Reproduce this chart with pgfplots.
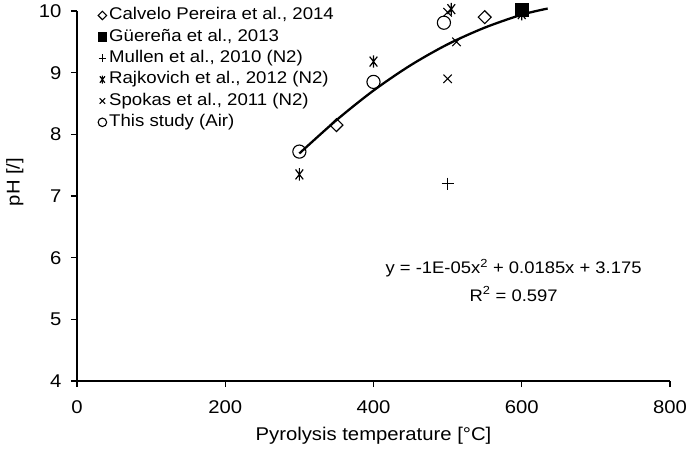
\documentclass[border=0pt]{standalone}
\usepackage{pgfplots}
\pgfplotsset{compat=1.18}
\usepackage{fontspec}
\setmainfont{Liberation Sans}[FakeStretch=1.1]
\pgfdeclareplotmark{xstar}{%
  \pgfpathmoveto{\pgfqpoint{0pt}{\pgfplotmarksize}}%
  \pgfpathlineto{\pgfqpoint{0pt}{-\pgfplotmarksize}}%
  \pgfpathmoveto{\pgfqpoint{-0.62\pgfplotmarksize}{0.8\pgfplotmarksize}}%
  \pgfpathlineto{\pgfqpoint{0.62\pgfplotmarksize}{-0.8\pgfplotmarksize}}%
  \pgfpathmoveto{\pgfqpoint{0.62\pgfplotmarksize}{0.8\pgfplotmarksize}}%
  \pgfpathlineto{\pgfqpoint{-0.62\pgfplotmarksize}{-0.8\pgfplotmarksize}}%
  \pgfusepathqstroke}
\begin{document}
\begin{tikzpicture}
\useasboundingbox (-77bp,-73bp) rectangle (610bp,381bp);
\begin{axis}[
  scale only axis, width=593bp, height=370bp,
  xmin=0, xmax=800, ymin=4, ymax=10,
  axis x line*=bottom, axis y line*=left,
  xtick={0,200,400,600,800}, ytick={4,5,6,7,8,9,10},
  tick align=outside, major tick length=6bp,
  tick style={black, line width=1.1pt},
  axis line style={line width=1.1pt},
  ticklabel style={font=\fontsize{18.5}{22}\selectfont},
  xticklabel style={yshift=-10bp},
  yticklabel style={xshift=-6bp},
  /pgf/number format/assume math mode=true,
  xlabel={Pyrolysis temperature [°C]},
  ylabel={pH [/]},
  every axis x label/.style={at={(axis description cs:0.5,0)}, anchor=center, yshift=-55bp},
  every axis y label/.style={at={(axis description cs:-0.1046,0.538)}, anchor=center, rotate=90},
  label style={font=\fontsize{18.5}{22}\selectfont},
  legend style={draw=none, fill=none, at={(0.0353,1.0175)}, anchor=north west,
    font=\fontsize{17}{20}\selectfont, row sep=0pt, inner sep=0pt,
    nodes={inner sep=2.5pt, text height=12.5bp, text depth=3.9bp}},
  legend cell align=left,
  legend image code/.code={\draw[#1, every mark/.append style={scale=0.65}] plot coordinates {(0.12cm,0cm)};},
  clip=false,
]
\addplot[only marks, mark=square, mark size=4.6pt, mark options={rotate=45, black, line width=1.1pt}]
  coordinates {(350,8.15) (550,9.9)};
\addlegendentry{Calvelo Pereira et al., 2014}
\addplot[only marks, mark=square*, mark size=6.5pt, mark options={black, fill=black}]
  coordinates {(600,10.02)};
\addlegendentry{Güereña et al., 2013}
\addplot[only marks, mark=+, mark size=6pt, mark options={black, line width=1.1pt}]
  coordinates {(500,7.2)};
\addlegendentry{Mullen et al., 2010 (N2)}
\addplot[only marks, mark=xstar, mark size=6.2pt, mark options={black, line width=1.2pt}]
  coordinates {(300,7.35) (400,9.18) (505,10.03) (600,9.95)};
\addlegendentry{Rajkovich et al., 2012 (N2)}
\addplot[only marks, mark=x, mark size=6pt, mark options={black, line width=1.1pt}]
  coordinates {(500,8.9) (512,9.5) (500,9.98)};
\addlegendentry{Spokas et al., 2011 (N2)}
\addplot[only marks, mark=o, mark size=6.6pt, mark options={black, line width=1.1pt}]
  coordinates {(300,7.72) (400,8.85) (495,9.81)};
\addlegendentry{This study (Air)}
\addplot[black, line width=2.3pt, smooth, no marks, forget plot]
  coordinates {(300,7.69) (350,8.23) (400,8.71) (450,9.12) (500,9.46) (550,9.73) (600,9.94) (635,10.04)};
\node[font=\fontsize{16.8}{20}\selectfont] at (axis cs:589,5.83) {y = -1E-05x\textsuperscript{2} + 0.0185x + 3.175};
\node[font=\fontsize{16.8}{20}\selectfont] at (axis cs:589,5.41) {R\textsuperscript{2} = 0.597};
\end{axis}
\end{tikzpicture}
\end{document}
